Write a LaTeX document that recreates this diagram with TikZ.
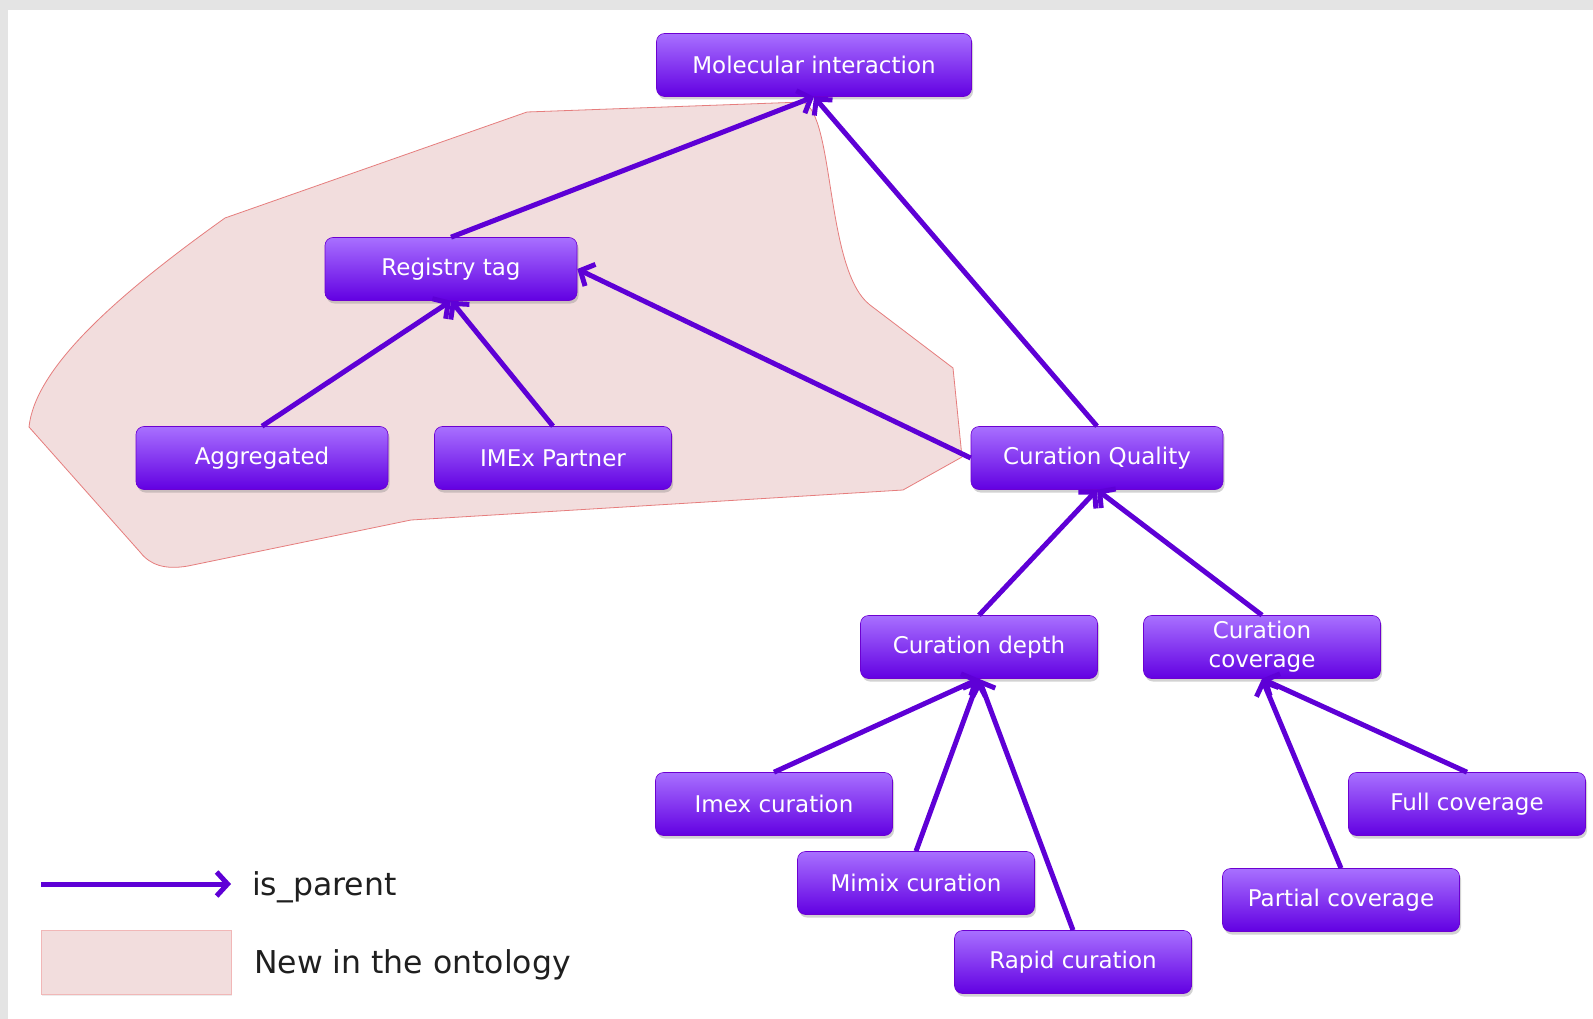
\documentclass[tikz,border=0pt]{standalone}
\usepackage{fontspec}
\setmainfont{DejaVu Sans}
\usetikzlibrary{arrows.meta,shadows}
\definecolor{violetA}{RGB}{168,112,255}
\definecolor{violetB}{RGB}{128,0,246}
\definecolor{violetC}{RGB}{98,0,226}
\definecolor{linkcol}{RGB}{94,0,214}
\definecolor{newfill}{RGB}{242,221,221}
\definecolor{newline}{RGB}{230,125,125}
\definecolor{framegray}{RGB}{228,228,228}
\begin{document}
\begin{tikzpicture}[x=1pt,y=-1pt,
	term/.style={rounded corners=8pt,top color=violetA,middle color=violetB,bottom color=violetC,
		draw=violetB!85!black,line width=.6pt,text=white,font=\fontsize{23}{29}\selectfont,
		minimum width=237pt,minimum height=63pt,inner sep=0pt,align=center,
		drop shadow={opacity=.35,shadow xshift=1.5pt,shadow yshift=-3pt}},
	wide/.style={minimum width=252pt},
	link/.style={draw=linkcol,line width=5pt,-{Straight Barb[length=11pt,width=24pt]}},
	legend/.style={anchor=west,inner sep=0pt,text=black!88,font=\fontsize{31.5}{36}\selectfont}]
		\useasboundingbox (0,0) rectangle (1593,1019);
		\fill[framegray] (0,0) rectangle (1593,1019);
		\fill[white] (8,10) rectangle (1593,1019);
		% new terms
		\filldraw[fill=newfill,draw=newline,line width=.8pt] (29,427) .. controls (35,370) and (110,300) .. (225,218)
			-- (527,112) -- (803,102) .. controls (835,115) and (825,270) .. (870,305) -- (953,368)
			-- (962,457) -- (903,490) -- (411,520) -- (188,566) .. controls (165,570) and (150,565) .. (140,552) -- cycle;
		\node[term,minimum width=315pt] (mi) at (814,65){Molecular interaction};
		\node[term,wide] (rt) at (451,269){Registry tag};
		\node[term,wide] (ag) at (262,458){Aggregated};
		\node[term] (ip) at (553,458){IMEx Partner};
		\node[term,wide] (cq) at (1097,458){Curation Quality};
		\node[term] (cd) at (979,647){Curation depth};
		\node[term] (cc) at (1262,647){Curation\\coverage};
		\node[term] (ic) at (774,804){Imex curation};
		\node[term] (mc) at (916,883){Mimix curation};
		\node[term] (rc) at (1073,962){Rapid curation};
		\node[term] (fc) at (1467,804){Full coverage};
		\node[term] (pc) at (1341,900){Partial coverage};
		\draw[link] (rt.north)--(mi.south);
		\draw[link] (cq.north)--(mi.south);
		\draw[link] (ag.north)--(rt.south);
		\draw[link] (ip.north)--(rt.south);
		\draw[link] (cq.west)--(rt.east);
		\draw[link] (cd.north)--(cq.south);
		\draw[link] (cc.north)--(cq.south);
		\draw[link] (ic.north)--(cd.south);
		\draw[link] (mc.north)--(cd.south);
		\draw[link] (rc.north)--(cd.south);
		\draw[link] (fc.north)--(cc.south);
		\draw[link] (pc.north)--(cc.south);
		% legend
		\coordinate (la) at (41,884);
		\coordinate (lb) at (231,884);
		\draw[link] (la)--(lb);
		\node[legend] (lp) at (252,887){is\_parent};
		\fill[newfill,draw=newline!55,line width=.8pt,drop shadow={opacity=.15,shadow xshift=1pt,shadow yshift=-2pt}] (41,930) rectangle (231,994);
		\node[legend] (ln) at (254,965){New in the ontology};
\end{tikzpicture}
\end{document}
